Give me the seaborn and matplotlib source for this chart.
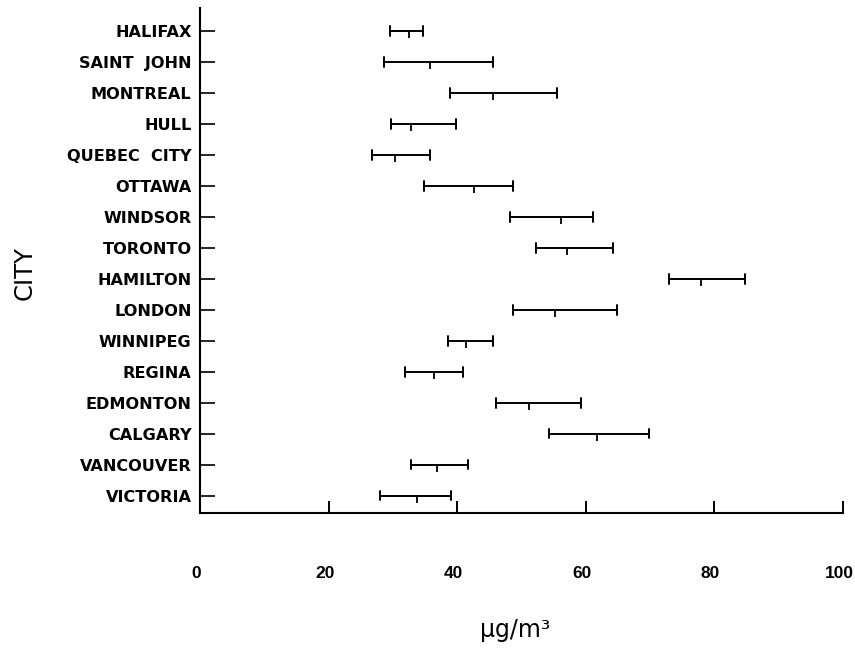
import matplotlib
matplotlib.use("Agg")
import matplotlib.pyplot as plt
import matplotlib.transforms as mtransforms
import seaborn as sns
import pandas as pd

cities = ["HALIFAX", "SAINT  JOHN", "MONTREAL", "HULL", "QUEBEC  CITY", "OTTAWA",
          "WINDSOR", "TORONTO", "HAMILTON", "LONDON", "WINNIPEG", "REGINA",
          "EDMONTON", "CALGARY", "VANCOUVER", "VICTORIA"]
low = [29.5, 28.6, 38.8, 29.7, 26.8, 34.9, 48.2, 52.2, 73.0, 48.7, 38.5, 31.9, 46.1, 54.2, 32.8, 28.0]
mid = [32.5, 35.8, 45.5, 32.8, 30.3, 42.6, 56.2, 57.1, 77.9, 55.2, 41.4, 36.4, 51.2, 61.8, 36.9, 33.7]
high = [34.7, 45.5, 55.5, 39.8, 35.7, 48.6, 61.1, 64.3, 84.8, 64.8, 45.5, 40.9, 59.2, 69.9, 41.7, 39.0]
xticks = [0, 20, 40, 60, 80, 100]

rows = []
for c, a, b, d in zip(cities, low, mid, high):
    for v in (a, b, d):
        rows.append({"city": c, "value": v})
df = pd.DataFrame(rows)

sns.set_theme(style="white")
plt.rcParams["font.family"] = ["DejaVu Sans"]
for k in ["text.color", "axes.labelcolor", "xtick.color", "ytick.color"]:
    plt.rcParams[k] = "black"

fig = plt.figure(figsize=(8.55, 6.5), dpi=100)
ax = fig.add_axes([0.234, 0.211, 0.752, 0.777])

sns.pointplot(data=df, x="value", y="city", order=cities, estimator="median",
              errorbar=("pi", 100), capsize=0.3, linestyle="none", marker=3,
              markersize=5, markeredgewidth=1.3, color="black",
              err_kws={"linewidth": 1.4}, ax=ax)

ax.set_xlim(0, 100)
ax.set_ylim(len(cities) - 0.45, -0.75)
ax.set_xticks(xticks[1:])
ax.set_xticklabels([])
shift = mtransforms.ScaledTranslation(-4 / 100, 0, fig.dpi_scale_trans)
for t in xticks:
    ax.text(t, -0.105, str(t), transform=ax.get_xaxis_transform() + shift,
            ha="center", va="top", fontsize=12.5, fontweight="bold",
            family=["Liberation Sans", "DejaVu Sans"])
ax.tick_params(axis="x", direction="in", length=9, width=1.4, color="black", bottom=True)
ax.tick_params(axis="y", direction="in", length=11, width=1.2, color="black", left=True,
               pad=6, labelsize=11.6)
for lab in ax.get_yticklabels():
    lab.set_fontweight("bold")

for s in ["top", "right"]:
    ax.spines[s].set_visible(False)
for s in ["left", "bottom"]:
    ax.spines[s].set_color("black")
    ax.spines[s].set_linewidth(1.5)

ax.set_xlabel("μg/m³", fontsize=17)
ax.xaxis.set_label_coords(0.49, -0.208)
ax.set_ylabel("CITY", fontsize=17.5)
ax.yaxis.set_label_coords(-0.254, 0.475)

fig.savefig("out.png", dpi=100)
